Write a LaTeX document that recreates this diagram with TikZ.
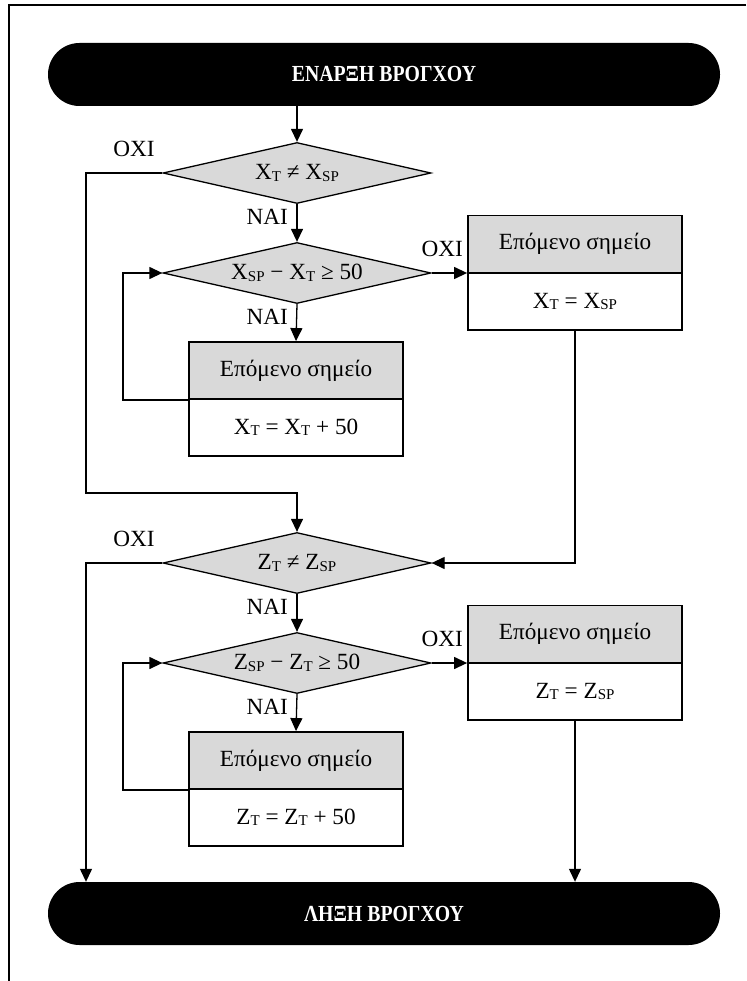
\documentclass[tikz,border=0pt]{standalone}
\usepackage{fontspec}
\setmainfont{Liberation Serif}
\usetikzlibrary{shapes.geometric,shapes.misc,arrows.meta}
\definecolor{boxgray}{RGB}{217,217,217}
% small lowered index letters (X_T, X_SP, ...)
\newcommand{\sbs}[1]{\raisebox{-1.3pt}{\fontsize{15pt}{15pt}\selectfont #1}}

\begin{document}
\begin{tikzpicture}[x=1pt,y=-1pt,
  every node/.style={font=\fontsize{23.2pt}{27pt}\selectfont},
  term/.style={rounded rectangle, fill=black, text=white, minimum width=672pt,
    minimum height=63pt, inner sep=0pt, font=\fontsize{23pt}{27pt}\selectfont\bfseries},
  decision/.style={diamond, aspect=4.4, draw, line width=1.3pt, fill=boxgray,
    minimum width=268pt, minimum height=61pt, inner sep=0pt},
  head/.style={rectangle, draw, line width=1.8pt, fill=boxgray,
    minimum width=214pt, minimum height=57pt, inner sep=0pt},
  body/.style={rectangle, draw, line width=1.8pt, fill=white,
    minimum width=214pt, minimum height=57pt, inner sep=0pt},
  flow/.style={line width=1.3pt, -{Triangle[length=13pt,width=12pt]}},
  lbl/.style={inner sep=0pt}
]
\useasboundingbox (0,0) rectangle (746,981);

% page frame (top and left rules)
\coordinate (frTR) at (746,5);
\coordinate (frTL) at (9,5);
\coordinate (frBL) at (9,981);
\draw[line width=1.5pt] (frTR) -- (frTL) -- (frBL);

% terminals
\node[term] (start) at (384,74.5) {\scalebox{0.86}[1]{ΕΝΑΡΞΗ ΒΡΟΓΧΟΥ}};
\node[term] (end) at (384,913.5) {\scalebox{0.86}[1]{ΛΗΞΗ ΒΡΟΓΧΟΥ}};

% X axis section
\node[decision] (dx1) at (297,173) {X\sbs{T} ≠ X\sbs{SP}};
\node[decision] (dx2) at (297,273) {X\sbs{SP} − X\sbs{T} ≥ 50};
\node[head] (nx) at (575,244) {Επόμενο σημείο};
\node[body] (sx) at (575,301.5) {X\sbs{T} = X\sbs{SP}};
\node[head] (px) at (296,370.5) {Επόμενο σημείο};
\node[body] (ix) at (296,427.5) {X\sbs{T} = X\sbs{T} + 50};

% Z axis section
\node[decision] (dz1) at (297,563) {Z\sbs{T} ≠ Z\sbs{SP}};
\node[decision] (dz2) at (297,663) {Z\sbs{SP} − Z\sbs{T} ≥ 50};
\node[head] (nz) at (575,634) {Επόμενο σημείο};
\node[body] (sz) at (575,691.5) {Z\sbs{T} = Z\sbs{SP}};
\node[head] (pz) at (296,760.5) {Επόμενο σημείο};
\node[body] (iz) at (296,817.5) {Z\sbs{T} = Z\sbs{T} + 50};

% branch labels
\node[lbl] (ox1) at (134,149) {ΟΧΙ};
\node[lbl, anchor=east] (nx1) at (288,217) {ΝΑΙ};
\node[lbl, anchor=east] (ox2) at (463,249) {ΟΧΙ};
\node[lbl, anchor=east] (nx2) at (288,317) {ΝΑΙ};
\node[lbl] (oz1) at (134,539) {ΟΧΙ};
\node[lbl, anchor=east] (nz1) at (288,607) {ΝΑΙ};
\node[lbl, anchor=east] (oz2) at (463,639) {ΟΧΙ};
\node[lbl, anchor=east] (nz2) at (288,707) {ΝΑΙ};

% connectors, X section
\draw[flow] (dx1.north |- start.south) -- (dx1.north);
\draw[flow] (dx1.south) -- (dx2.north);
\draw[flow] (dx2.south) -- (px.north);
\draw[flow] (dx2.east) -- (dx2.east -| nx.west);
\draw[flow] (px.south west) -- ++(-65,0) |- (dx2.west);
\coordinate (skipX) at (86,173);
\coordinate (joinX) at (297,493);
\draw[flow] (dx1.west) -- (skipX) |- (joinX) -- (dz1.north);
\draw[flow] (sx.south) |- (dz1.east);

% connectors, Z section
\draw[flow] (dz1.south) -- (dz2.north);
\draw[flow] (dz2.south) -- (pz.north);
\draw[flow] (dz2.east) -- (dz2.east -| nz.west);
\draw[flow] (pz.south west) -- ++(-65,0) |- (dz2.west);
\coordinate (skipZ) at (86,563);
\draw[flow] (dz1.west) -- (skipZ) -- (skipZ |- end.north);
\draw[flow] (sz.south) -- (sz.south |- end.north);

\end{tikzpicture}
\end{document}
